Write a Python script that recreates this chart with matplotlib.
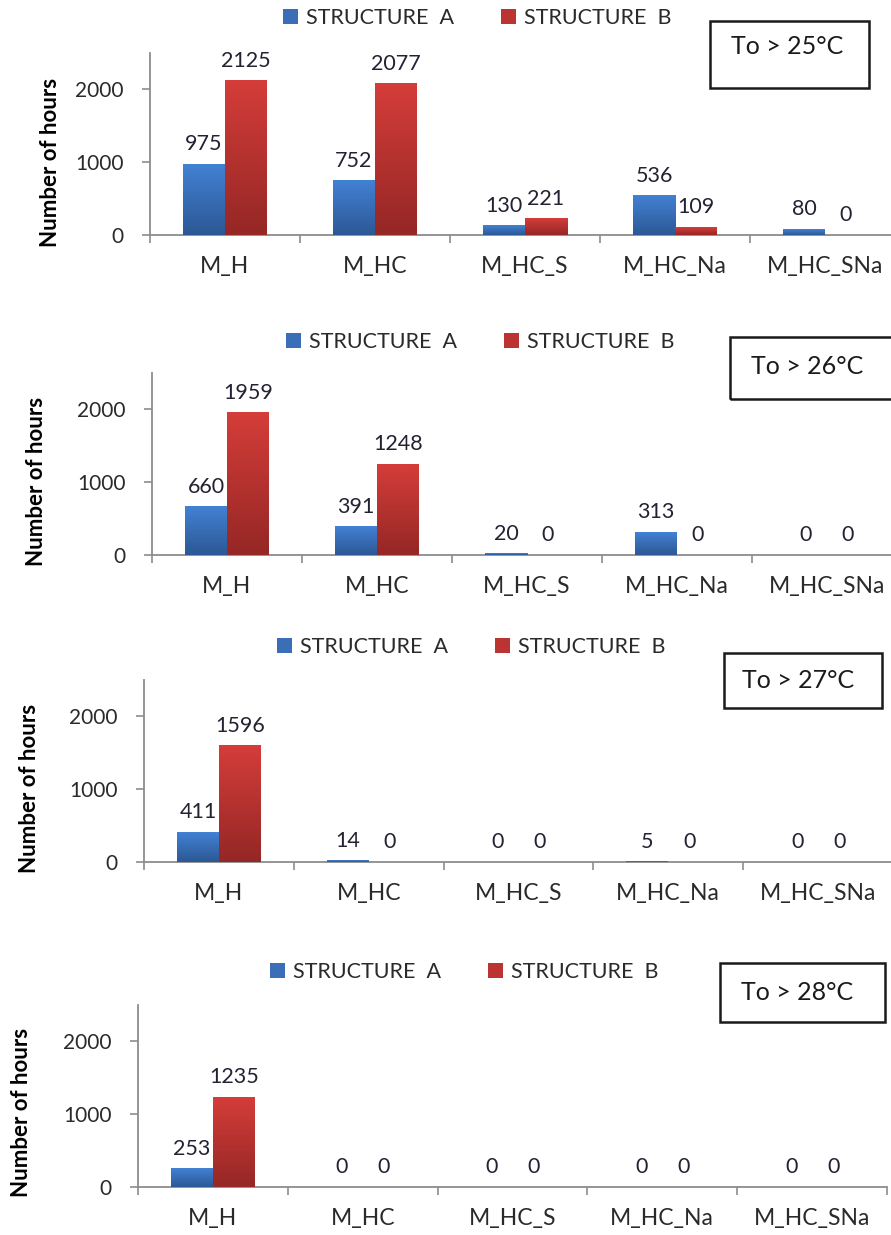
import matplotlib
matplotlib.use("Agg")
import matplotlib.pyplot as plt
import numpy as np
from matplotlib.colors import LinearSegmentedColormap
from matplotlib.patches import Rectangle

plt.rcParams['font.family'] = ['Lato', 'DejaVu Sans']

categories = ['M_H', 'M_HC', 'M_HC_S', 'M_HC_Na', 'M_HC_SNa']
series_names = ['STRUCTURE  A', 'STRUCTURE  B']
thresholds = ['To > 25°C', 'To > 26°C', 'To > 27°C', 'To > 28°C']

struct_a_25 = [975, 752, 130, 536, 80]
struct_b_25 = [2125, 2077, 221, 109, 0]
struct_a_26 = [660, 391, 20, 313, 0]
struct_b_26 = [1959, 1248, 0, 0, 0]
struct_a_27 = [411, 14, 0, 5, 0]
struct_b_27 = [1596, 0, 0, 0, 0]
struct_a_28 = [253, 0, 0, 0, 0]
struct_b_28 = [1235, 0, 0, 0, 0]

yticks = [0, 1000, 2000]
ymax = 2500

W, H = 891, 1235
fig = plt.figure(figsize=(W / 100, H / 100), dpi=100)

# layout in pixels (measured from the reference)
# left, right, zero line, top, legend centre, temp box, text centre, ylabel centre
layout = [
    dict(l=150, r=900, z=235, t=53, leg=(477, 18), box=(710, 869, 21, 88), txt=(787, 47), yl=(51, 162)),
    dict(l=152, r=902, z=555, t=373, leg=(480, 342), box=(730, 897, 337, 399), txt=(807, 366), yl=(37, 481)),
    dict(l=144, r=893, z=862, t=680, leg=(471, 647), box=(724, 882, 653, 708), txt=(798, 681), yl=(30, 788)),
    dict(l=138, r=887, z=1187, t=1005, leg=(464, 972), box=(720, 885, 963, 1022), txt=(797, 992), yl=(22, 1112)),
]

data = [(struct_a_25, struct_b_25), (struct_a_26, struct_b_26),
        (struct_a_27, struct_b_27), (struct_a_28, struct_b_28)]

blue_cmap = LinearSegmentedColormap.from_list('b', ['#2c5895', '#4281d3'])
red_cmap = LinearSegmentedColormap.from_list('r', ['#952725', '#d43d39'])
grad = np.linspace(0, 1, 64).reshape(-1, 1)

def fx(px):
    return px / W

def fy(py):
    return 1 - py / H

x = np.arange(len(categories))
bw = 0.28

for (vals_a, vals_b), lay, label in zip(data, layout, thresholds):
    ax = fig.add_axes([fx(lay['l']), fy(lay['z']), (lay['r'] - lay['l']) / W, (lay['z'] - lay['t']) / H])
    ba = ax.bar(x - bw / 2, vals_a, bw, color='#3a6fb8', label=series_names[0], zorder=2)
    bb = ax.bar(x + bw / 2, vals_b, bw, color='#bb3431', label=series_names[1], zorder=2)

    # gradient fill like the spreadsheet bars
    for cont, cm in ((ba, blue_cmap), (bb, red_cmap)):
        for rect in cont:
            h = rect.get_height()
            if h <= 0:
                continue
            x0 = rect.get_x()
            ax.imshow(grad, extent=[x0, x0 + rect.get_width(), 0, h], origin='lower',
                      aspect='auto', cmap=cm, zorder=3)

    for cont in (ba, bb):
        ax.bar_label(cont, padding=7, fontsize=15.5, color='#222233', zorder=5)

    ax.set_xlim(-0.5, len(categories) - 0.5)
    ax.set_ylim(0, ymax)
    ax.set_yticks(yticks)
    ax.set_xticks(x)
    ax.set_xticklabels(categories)
    ax.set_xticks(np.arange(-0.5, len(categories)), minor=True)
    ax.tick_params(axis='x', which='major', length=0, pad=15, labelsize=16.5, labelcolor='#2a2a2a')
    ax.tick_params(axis='x', which='minor', length=6, width=1.2, color='#8c8c8c')
    ax.tick_params(axis='y', length=6, width=1.2, color='#8c8c8c', pad=13, labelsize=15, labelcolor='#2a2a2a')
    for s in ('top', 'right'):
        ax.spines[s].set_visible(False)
    for s in ('left', 'bottom'):
        ax.spines[s].set_color('#8c8c8c')
        ax.spines[s].set_linewidth(1.3)

    fig.legend(handles=[ba, bb], loc='center', bbox_to_anchor=(fx(lay['leg'][0]), fy(lay['leg'][1])),
               ncol=2, frameon=False, fontsize=15.5, handlelength=0.7, handleheight=0.7,
               handletextpad=0.35, columnspacing=2.2, borderpad=0, labelcolor='#2a2a2a')

    bx0, bx1, by0, by1 = lay['box']
    fig.patches.append(Rectangle((fx(bx0), fy(by1)), (bx1 - bx0) / W, (by1 - by0) / H,
                                 transform=fig.transFigure, fill=False, edgecolor='#1a1a1a', linewidth=1.8))
    fig.text(fx(lay['txt'][0]), fy(lay['txt'][1]), label, ha='center', va='center', fontsize=18, color='#1a1a1a')

    fig.text(fx(lay['yl'][0]), fy(lay['yl'][1]), 'Number of hours', rotation=90, ha='center', va='center',
             fontsize=16, fontweight='bold', color='black')

fig.savefig('out.png', dpi=100)
